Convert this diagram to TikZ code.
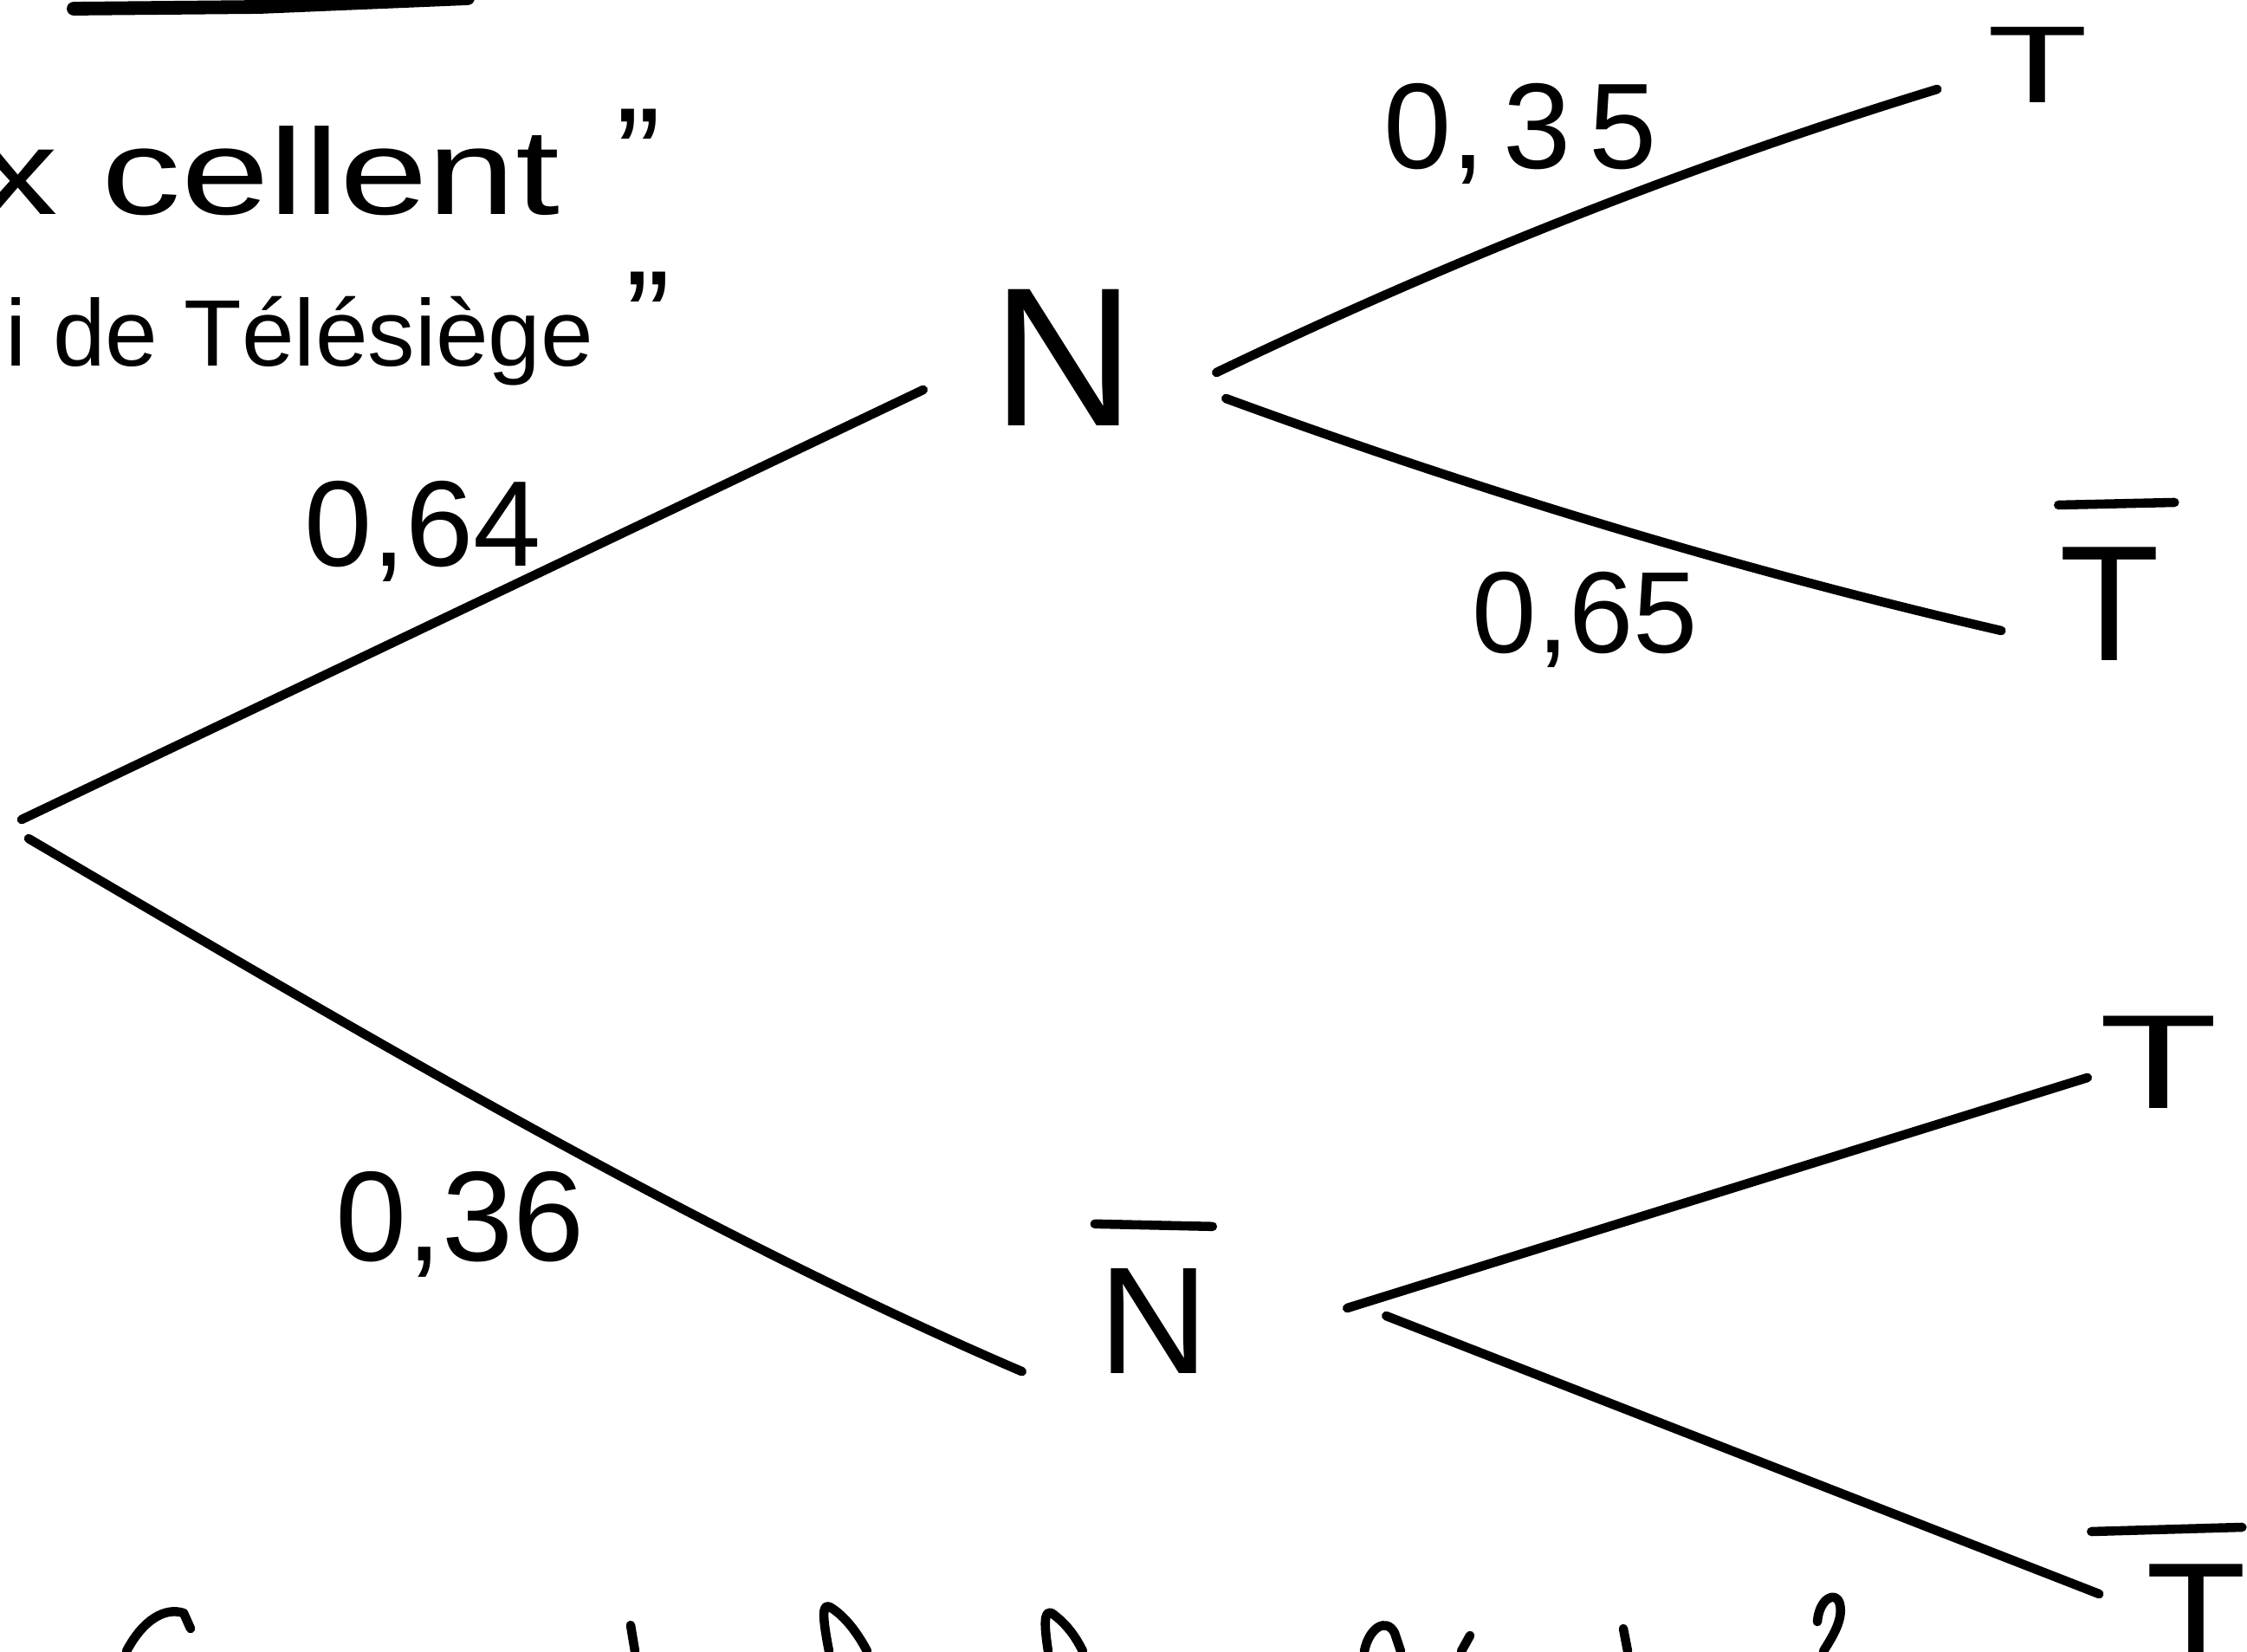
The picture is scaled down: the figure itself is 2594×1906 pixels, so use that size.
\documentclass[tikz,border=0pt]{standalone}
\usepackage{fontspec}
\setmainfont{Liberation Sans}
\begin{document}
\begin{tikzpicture}[x=0.01cm,y=-0.01cm,line cap=round,line join=round,
  branch/.style={draw=black,line width=3pt},
  stroke/.style={draw=black,line width=3pt},
  ev/.style={inner sep=0pt,text=black},
  prob/.style={inner sep=0pt,anchor=base,text=black}]
\useasboundingbox (0,0) rectangle (2594,1906);
\clip (0,0) rectangle (2594,1906);
% header remains
\draw[line width=4.5pt] (85,10) -- (300,8) -- (540,-2);
\node[ev,anchor=base west,font=\fontsize{40}{40}\selectfont] (t1) at (-25,248) {\scalebox{1.3}[1]{x cellent}};
\node[ev,anchor=base,font=\fontsize{44}{44}\selectfont] (q1) at (737,232) {”};
\node[ev,anchor=base west,font=\fontsize{31}{31}\selectfont] (t2) at (6,422) {i de Télésiège};
\node[ev,anchor=base,font=\fontsize{44}{44}\selectfont] (q2) at (748,420) {”};
% root
\coordinate (r1) at (25,946);
\coordinate (r2) at (33,968);
% events
\node[ev,font=\fontsize{65}{65}\selectfont] (N) at (1228,413) {N};
\node[ev,font=\fontsize{50}{50}\selectfont] (Nb) at (1332,1525) {N};
\draw[stroke] ([shift={(-4,-51)}]Nb.north west) -- ([shift={(132,-48)}]Nb.north west);
\node[ev,font=\fontsize{36}{36}\selectfont] (T1) at (2352,75) {\scalebox{1.5}[1]{T}};
\node[ev,font=\fontsize{54}{54}\selectfont] (Tb1) at (2435,697) {T};
\draw[stroke] ([shift={(0,-48)}]Tb1.north west) -- ([shift={(134,-51)}]Tb1.north west);
\node[ev,font=\fontsize{44}{44}\selectfont] (T2) at (2492,1226) {\scalebox{1.45}[1]{T}};
\node[ev,font=\fontsize{54}{54}\selectfont] (Tb2) at (2535,1871) {T};
\draw[stroke] ([shift={(-62,-37)}]Tb2.north west) -- ([shift={(112,-42)}]Tb2.north west);
% branches
\draw[branch] (r1) -- ([shift={(-79,37)}]N.west);
\draw[branch] (r2) .. controls (420,1195) and (800,1420) .. ([shift={(-88,-3)}]Nb.south west);
\draw[branch] ([shift={(93,17)}]N.east) .. controls (1681,297) and (1959,188) .. ([shift={(-57,28)}]T1.west);
\draw[branch] ([shift={(104,47)}]N.east) .. controls (1713,569) and (2012,659) .. ([shift={(-66,31)}]Tb1.west);
\draw[branch] ([shift={(159,-15)}]Nb.east) -- ([shift={(-13,18)}]T2.west);
\draw[branch] ([shift={(204,-6)}]Nb.east) -- ([shift={(-53,-31)}]Tb2.west);
% probabilities
\node[prob,font=\fontsize{40}{40}\selectfont] (p64) at (488,653) {0,64};
\node[prob,font=\fontsize{42}{42}\selectfont] (p36) at (531,1455) {0,36};
\node[prob,font=\fontsize{40}{40}\selectfont] (p35) at (1755,195) {0,\kern0.15em3\kern0.15em5};
\node[prob,font=\fontsize{38}{38}\selectfont] (p65) at (1830,753) {0,65};
% cut-off writing at the bottom edge
\draw[stroke] (146,1906) .. controls (165,1870) and (190,1855) .. (212,1862) -- (220,1880);
\draw[stroke] (728,1876) -- (733,1906);
\draw[stroke] (957,1906) .. controls (950,1870) and (948,1850) .. (958,1855) .. controls (975,1865) and (990,1885) .. (1001,1906);
\draw[stroke] (1210,1906) .. controls (1206,1880) and (1204,1858) .. (1214,1862) .. controls (1232,1875) and (1242,1890) .. (1250,1906);
\draw[stroke] (1575,1906) .. controls (1580,1880) and (1600,1866) .. (1610,1885) -- (1617,1906);
\draw[stroke] (1687,1906) -- (1697,1888);
\draw[stroke] (1874,1880) -- (1879,1906);
\draw[stroke] (2098,1872) .. controls (2100,1845) and (2120,1835) .. (2124,1852) .. controls (2128,1870) and (2115,1890) .. (2105,1906);
\end{tikzpicture}
\end{document}
